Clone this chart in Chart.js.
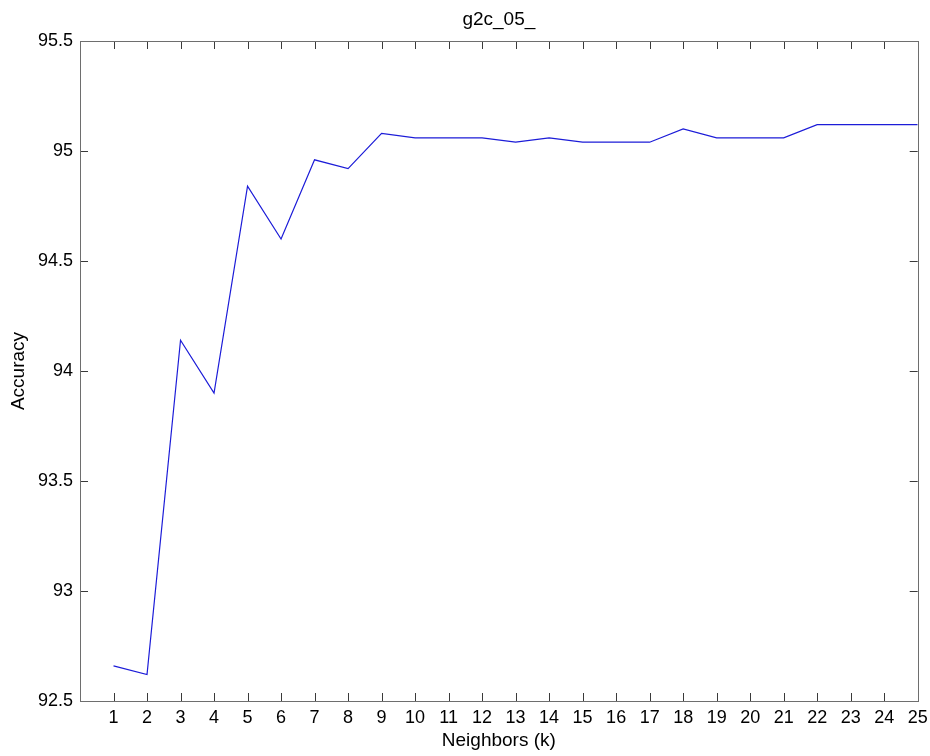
<!DOCTYPE html>
<html>
<head>
<meta charset="utf-8">
<script src="https://cdn.jsdelivr.net/npm/chart.js@4"></script>
<style>
  html, body { margin: 0; padding: 0; background: #ffffff; }
  canvas { display: block; }
</style>
</head>
<body>
<canvas id="c" width="930" height="756"></canvas>
<script>
// ---- data ----
const neighbors = [1, 2, 3, 4, 5, 6, 7, 8, 9, 10, 11, 12, 13, 14, 15, 16, 17, 18, 19, 20, 21, 22, 23, 24, 25];
const accuracy = [92.66, 92.62, 94.14, 93.90, 94.84, 94.60, 94.96, 94.92, 95.08, 95.06, 95.06, 95.06, 95.04, 95.06, 95.04, 95.04, 95.04, 95.10, 95.06, 95.06, 95.06, 95.12, 95.12, 95.12, 95.12];
const xTickValues = [1, 2, 3, 4, 5, 6, 7, 8, 9, 10, 11, 12, 13, 14, 15, 16, 17, 18, 19, 20, 21, 22, 23, 24, 25];
const yTickValues = [92.5, 93, 93.5, 94, 94.5, 95, 95.5];
const titleText = 'g2c_05_';
const xLabel = 'Neighbors (k)';
const yLabel = 'Accuracy';

const FONT = "'Liberation Sans', Arial, sans-serif";

const boxPlugin = {
  id: 'matlabBox',
  afterDatasetsDraw(chart) {
    const ctx = chart.ctx;
    const a = chart.chartArea;
    const xs = chart.scales.x, ys = chart.scales.y;
    const L = 8;
    ctx.save();
    ctx.lineWidth = 1;
    ctx.strokeStyle = '#3a3a3a';
    ctx.beginPath();
    xs.ticks.forEach(t => {
      const px = Math.round(xs.getPixelForValue(t.value)) + 0.5;
      ctx.moveTo(px, a.bottom); ctx.lineTo(px, a.bottom - L);
      ctx.moveTo(px, a.top); ctx.lineTo(px, a.top + L);
    });
    ys.ticks.forEach(t => {
      const py = Math.round(ys.getPixelForValue(t.value)) + 0.5;
      ctx.moveTo(a.left, py); ctx.lineTo(a.left + L, py);
      ctx.moveTo(a.right, py); ctx.lineTo(a.right - L, py);
    });
    ctx.stroke();
    ctx.strokeStyle = '#6e6e6e';
    ctx.strokeRect(Math.round(a.left) + 0.5, Math.round(a.top) + 0.5,
                   Math.round(a.right - a.left), Math.round(a.bottom - a.top));
    ctx.restore();
  }
};

new Chart(document.getElementById('c'), {
  type: 'line',
  data: {
    datasets: [{
      data: neighbors.map((k, i) => ({ x: k, y: accuracy[i] })),
      borderColor: '#1c1cd8',
      borderWidth: 1.2,
      pointRadius: 0,
      fill: false,
      tension: 0
    }]
  },
  options: {
    responsive: false,
    animation: false,
    devicePixelRatio: 1,
    layout: { padding: { left: 0, right: 12.3, top: 0, bottom: 0 } },
    plugins: {
      legend: { display: false },
      tooltip: { enabled: false },
      title: { display: false }
    },
    scales: {
      x: {
        type: 'linear',
        position: 'bottom',
        min: 0,
        max: 25,
        afterBuildTicks: s => { s.ticks = xTickValues.map(v => ({ value: v })); },
        ticks: {
          color: '#000',
          font: { family: FONT, size: 18 },
          padding: 6,
          maxRotation: 0,
          autoSkip: false,
          callback: v => String(v)
        },
        grid: { display: false, drawTicks: false },
        border: { display: false },
        title: {
          display: true,
          text: xLabel,
          color: '#000',
          font: { family: FONT, size: 19 },
          padding: { top: 1, bottom: 4 }
        },
        afterFit: s => { s.height = 55; s.paddingLeft = 0; s.paddingRight = 0; }
      },
      xTop: {
        type: 'linear',
        position: 'top',
        min: 0,
        max: 25,
        ticks: { display: false },
        grid: { display: false, drawTicks: false },
        border: { display: false },
        title: {
          display: true,
          text: titleText,
          color: '#000',
          font: { family: FONT, size: 19 },
          padding: { top: 8.6, bottom: 0 }
        },
        afterFit: s => { s.height = 41; s.paddingLeft = 0; s.paddingRight = 0; }
      },
      y: {
        type: 'linear',
        min: 92.5,
        max: 95.5,
        afterBuildTicks: s => { s.ticks = yTickValues.map(v => ({ value: v })); },
        ticks: {
          color: '#000',
          font: { family: FONT, size: 18 },
          padding: 7,
          autoSkip: false,
          callback: v => String(v)
        },
        grid: { display: false, drawTicks: false },
        border: { display: false },
        title: {
          display: true,
          text: yLabel,
          color: '#000',
          font: { family: FONT, size: 19 },
          padding: { top: 7, bottom: 0 }
        },
        afterFit: s => { s.width = 80; s.paddingTop = 0; s.paddingBottom = 0; }
      }
    }
  },
  plugins: [boxPlugin]
});
</script>
</body>
</html>
